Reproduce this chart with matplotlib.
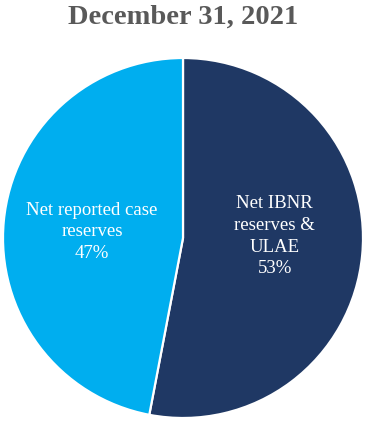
import matplotlib.pyplot as plt

# ------------------------------------------------
# DATA
# ------------------------------------------------

categories = ["Net IBNR\nreserves &\nULAE", "Net reported case\nreserves"]
shares     = [53, 47]
colors     = ["#1F3864", "#00AEEF"]
title      = "December 31, 2021"

# label anchors inside the pie (radius units)
label_pos = [(0.51, 0.01), (-0.505, 0.035)]

W, H = 367, 422

plt.rcParams["font.family"] = ["Liberation Serif", "DejaVu Serif"]

fig = plt.figure(figsize=(W / 100, H / 100), dpi=100)
ax = fig.add_axes([3 / W, 4 / H, 360 / W, 360 / H])

labels = [f"{c}\n{v}%" for c, v in zip(categories, shares)]
wedges, texts = ax.pie(
    shares,
    colors=colors,
    labels=labels,
    startangle=90,
    counterclock=False,
    labeldistance=0.51,
    wedgeprops=dict(edgecolor="white", linewidth=1.6),
    textprops=dict(color="white", fontsize=13.5, linespacing=1.36),
)
for t, pos in zip(texts, label_pos):
    t.set_position(pos)
    t.set_ha("center")
    t.set_va("center")
    t.set_multialignment("center")

ax.set_xlim(-1, 1)
ax.set_ylim(-1, 1)
ax.set_aspect("equal")
ax.axis("off")

fig.text(0.5, 1 - 24 / H, title, ha="center", va="baseline",
         fontsize=20.5, fontweight="bold", color="#595959")

fig.savefig("out.png", dpi=100)
plt.close(fig)
